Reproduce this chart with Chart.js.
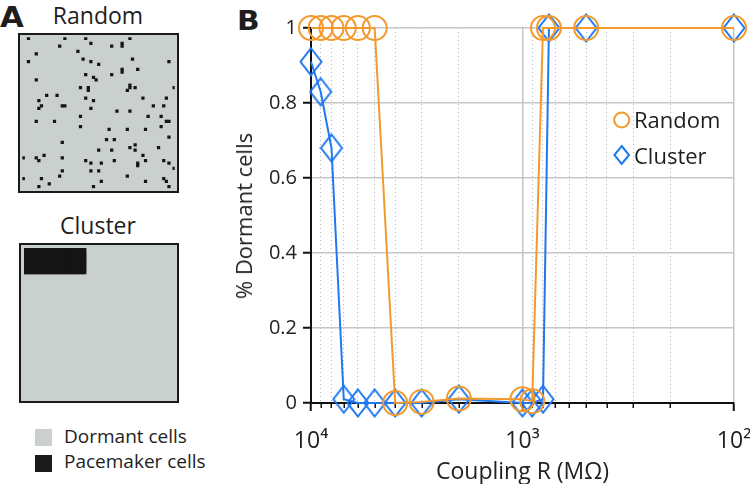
<!DOCTYPE html>
<html><head><meta charset="utf-8">
<script src="https://cdn.jsdelivr.net/npm/chart.js@4.4.1/dist/chart.umd.min.js"></script>
<style>
html,body{margin:0;padding:0;background:#fff;}
body{width:750px;height:484px;position:relative;overflow:hidden;font-family:'Open Sans',sans-serif;color:#1e1e1e;}
.t{position:absolute;white-space:nowrap;line-height:normal;}
.box{position:absolute;box-sizing:border-box;border:2px solid #1a1a1a;background:#c9d0ce;}
.box canvas{position:absolute;left:0;top:0;}
.sw{position:absolute;width:17px;height:17px;}
</style></head><body>

<div class="t" style="left:0px;top:1px;font-size:28px;font-weight:800;font-family:'DejaVu Sans',sans-serif;transform:scaleX(1.1);transform-origin:left top;">A</div>
<div class="t" style="left:0;width:196px;text-align:center;top:-1.5px;font-size:23px;">Random</div>
<div class="box" style="left:18px;top:33px;width:161px;height:160px;"><canvas id="randGrid" width="157" height="156"></canvas></div>
<div class="t" style="left:0;width:196px;text-align:center;top:209px;font-size:23px;">Cluster</div>
<div class="box" style="left:19px;top:243px;width:160px;height:160px;"><canvas id="clusGrid" width="156" height="156"></canvas></div>
<div class="sw" style="left:35px;top:429px;background:#c9d0ce;"></div>
<div class="sw" style="left:35px;top:455px;background:#1a1a1a;"></div>
<div class="t" style="left:64px;top:423px;font-size:19px;">Dormant cells</div>
<div class="t" style="left:64px;top:448px;font-size:19px;">Pacemaker cells</div>

<div class="t" style="left:237px;top:5px;font-size:27px;font-weight:800;font-family:'DejaVu Sans',sans-serif;transform:scaleX(1.1);transform-origin:left top;">B</div>
<div style="position:absolute;left:200px;top:0;width:550px;height:484px;"><canvas id="chartB" width="550" height="484"></canvas></div>
<div class="t" style="left:243px;top:216px;font-size:22px;color:#222;transform:translate(-50%,-50%) rotate(-90deg);">% Dormant cells</div>

<svg style="position:absolute;left:610px;top:108px;" width="24" height="60">
  <circle cx="11.7" cy="12" r="7.5" fill="none" stroke="#F39A2E" stroke-width="2"/>
  <path d="M11.7 38 L19 47 L11.7 56 L4.4 47 Z" fill="none" stroke="#1E78F0" stroke-width="2"/>
</svg>
<div class="t" style="left:634px;top:104px;font-size:22px;">Random</div>
<div class="t" style="left:634px;top:140px;font-size:22px;">Cluster</div>

<script>
// ---------- Panel A data (grid cell column/row of pacemaker cells) ----------
const randomCols = [3,17,25,42,27,39,39,15,35,22,6,43,24,3,27,30,57,45,39,39,35,25,28,29,6,42,42,44,41,23,26,26,59,10,14,25,28,47,56,7,7,8,16,17,27,51,55,37,42,23,49,54,6,13,56,57,23,54,34,41,48,57,33,36,16,44,42,44,47,53,30,35,9,1,6,7,16,25,27,31,36,48,55,45,45,57,59,16,15,27,30,41,55,56,1,8,11,31,48,7,28,57];
const randomRows = [1,1,1,1,3,3,4,4,4,6,7,9,9,10,10,11,10,13,13,14,15,15,16,17,17,19,20,20,21,20,20,21,20,23,23,24,25,24,24,25,28,27,27,27,28,27,27,29,29,31,31,31,33,33,33,33,35,35,36,36,36,39,40,40,41,42,43,44,46,43,44,44,46,47,47,48,47,48,49,49,48,48,48,49,50,49,51,52,54,52,52,54,55,56,55,55,57,56,56,58,58,58];
const clusterColRange = [1, 24];
const clusterRowRange = [1, 10];

// ---------- Panel B data ----------
const couplingR      = [10000, 9000, 8000, 7000, 6000, 5000, 4000, 3000, 2000, 1000, 900, 800, 750, 500, 100];
const randomDormant  = [1, 1, 1, 1, 1, 1, 0, 0.003, 0.012, 0.01, 0.005, 1, 1, 1, 1];
const clusterDormant = [0.91, 0.83, 0.68, 0.01, 0, 0, 0, 0, 0.01, 0, 0, 0.01, 1, 1, 1];
const yTickValues    = [0, 0.2, 0.4, 0.6, 0.8, 1];
const xMajorTicks    = [10000, 1000, 100];
const xMinorTicks    = [9000, 8000, 7000, 6000, 5000, 4000, 3000, 2000, 900, 800, 700, 600, 500, 400, 300, 200];
const xTickLabels    = {10000: '10\u2074', 1000: '10\u00B3', 100: '10\u00B2'};

const ORANGE = '#F39A2E';
const BLUE = '#1E78F0';
const FONT = "'Open Sans', sans-serif";
Chart.defaults.font.family = FONT;
Chart.defaults.color = '#1e1e1e';

const CELL = 2.68, OFF = 0.63;
function gridChart(id, pts, w, h, r) {
  new Chart(document.getElementById(id), {
    type: 'scatter',
    data: {datasets: [{data: pts, pointStyle: 'rect', pointRadius: r, pointHoverRadius: r,
      pointBorderWidth: 0, backgroundColor: '#151515', borderColor: '#151515'}]},
    options: {animation: false, responsive: false, devicePixelRatio: 1, events: [],
      layout: {padding: 0},
      plugins: {legend: {display: false}, tooltip: {enabled: false}},
      scales: {
        x: {display: false, type: 'linear', min: OFF, max: OFF + w / CELL},
        y: {display: false, type: 'linear', reverse: true, min: OFF, max: OFF + h / CELL}
      }}
  });
}
gridChart('randGrid', randomCols.map((c, i) => ({x: c, y: randomRows[i]})), 157, 156, 2.3);
const clusterPts = [];
for (let c = clusterColRange[0]; c <= clusterColRange[1]; c++)
  for (let r = clusterRowRange[0]; r <= clusterRowRange[1]; r++) clusterPts.push({x: c, y: r});
gridChart('clusGrid', clusterPts, 156, 156, 3);

// diamond marker
const dia = document.createElement('canvas');
dia.width = 24; dia.height = 30;
(function () {
  const c = dia.getContext('2d');
  c.strokeStyle = BLUE; c.lineWidth = 2; c.lineJoin = 'miter';
  c.beginPath(); c.moveTo(12, 1.5); c.lineTo(22.5, 15); c.lineTo(12, 28.5); c.lineTo(1.5, 15); c.closePath(); c.stroke();
})();

const isMajor = v => xMajorTicks.includes(v);
const minorTickPlugin = {
  id: 'minorTicks',
  beforeDatasetsDraw(chart) {
    const s = chart.scales.x, c = chart.ctx;
    c.save(); c.strokeStyle = '#111'; c.lineWidth = 1.5;
    xMinorTicks.forEach(v => {
      const px = Math.round(s.getPixelForValue(v)) + 0.25;
      c.beginPath(); c.moveTo(px, s.top); c.lineTo(px, s.top + 5); c.stroke();
    });
    c.restore();
  }
};

new Chart(document.getElementById('chartB'), {
  type: 'line',
  data: {datasets: [
    {label: 'Random', data: couplingR.map((x, i) => ({x, y: randomDormant[i]})),
      borderColor: ORANGE, borderWidth: 2, tension: 0, clip: false,
      pointStyle: 'circle', pointRadius: 12, pointHoverRadius: 12, pointBorderWidth: 2,
      pointBorderColor: ORANGE, pointBackgroundColor: 'rgba(0,0,0,0)'},
    {label: 'Cluster', data: couplingR.map((x, i) => ({x, y: clusterDormant[i]})),
      borderColor: BLUE, borderWidth: 2, tension: 0, clip: false,
      pointStyle: dia, pointRadius: 12, pointHoverRadius: 12}
  ]},
  options: {
    animation: false, responsive: false, devicePixelRatio: 1, events: [],
    layout: {padding: {top: 28, right: 0, left: 0, bottom: 0}},
    plugins: {legend: {display: false}, tooltip: {enabled: false}},
    scales: {
      x: {
        type: 'logarithmic', reverse: true, min: 100, max: 10000,
        afterBuildTicks: s => { s.ticks = xMajorTicks.concat(xMinorTicks).sort((a, b) => b - a).map(v => ({value: v, major: isMajor(v)})); },
        afterFit: s => { s.height = 81; s.paddingRight = 16; s.paddingLeft = 0; },
        ticks: {autoSkip: false, maxRotation: 0, minRotation: 0, padding: 17,
          callback: v => xTickLabels[v] || '', font: {size: 23}, color: '#222'},
        grid: {
          color: c => (c.tick && isMajor(c.tick.value)) ? '#c6c6c6' : '#b4b4b4',
          lineWidth: c => (c.tick && isMajor(c.tick.value)) ? 1.5 : 1,
          tickLength: 8, tickWidth: 2,
          tickColor: c => (c.tick && isMajor(c.tick.value)) ? '#111' : 'rgba(0,0,0,0)'
        },
        border: {color: '#111', width: 2, dash: c => (c.tick && !isMajor(c.tick.value)) ? [1, 3] : []},
        title: {display: true, text: 'Coupling R (M\u03A9)', font: {size: 23}, color: '#222', padding: {top: 0, bottom: -2}}
      },
      y: {
        min: 0, max: 1,
        afterBuildTicks: s => { s.ticks = yTickValues.map(v => ({value: v})); },
        afterFit: s => { s.width = 111; },
        ticks: {padding: 6, font: {size: 20}, color: '#222', callback: v => String(+v.toFixed(1))},
        grid: {color: '#c6c6c6', lineWidth: 1.5, tickLength: 8, tickWidth: 2, tickColor: '#111'},
        border: {color: '#111', width: 2},
        title: {display: false}
      }
    }
  },
  plugins: [minorTickPlugin]
});
</script>
</body></html>
